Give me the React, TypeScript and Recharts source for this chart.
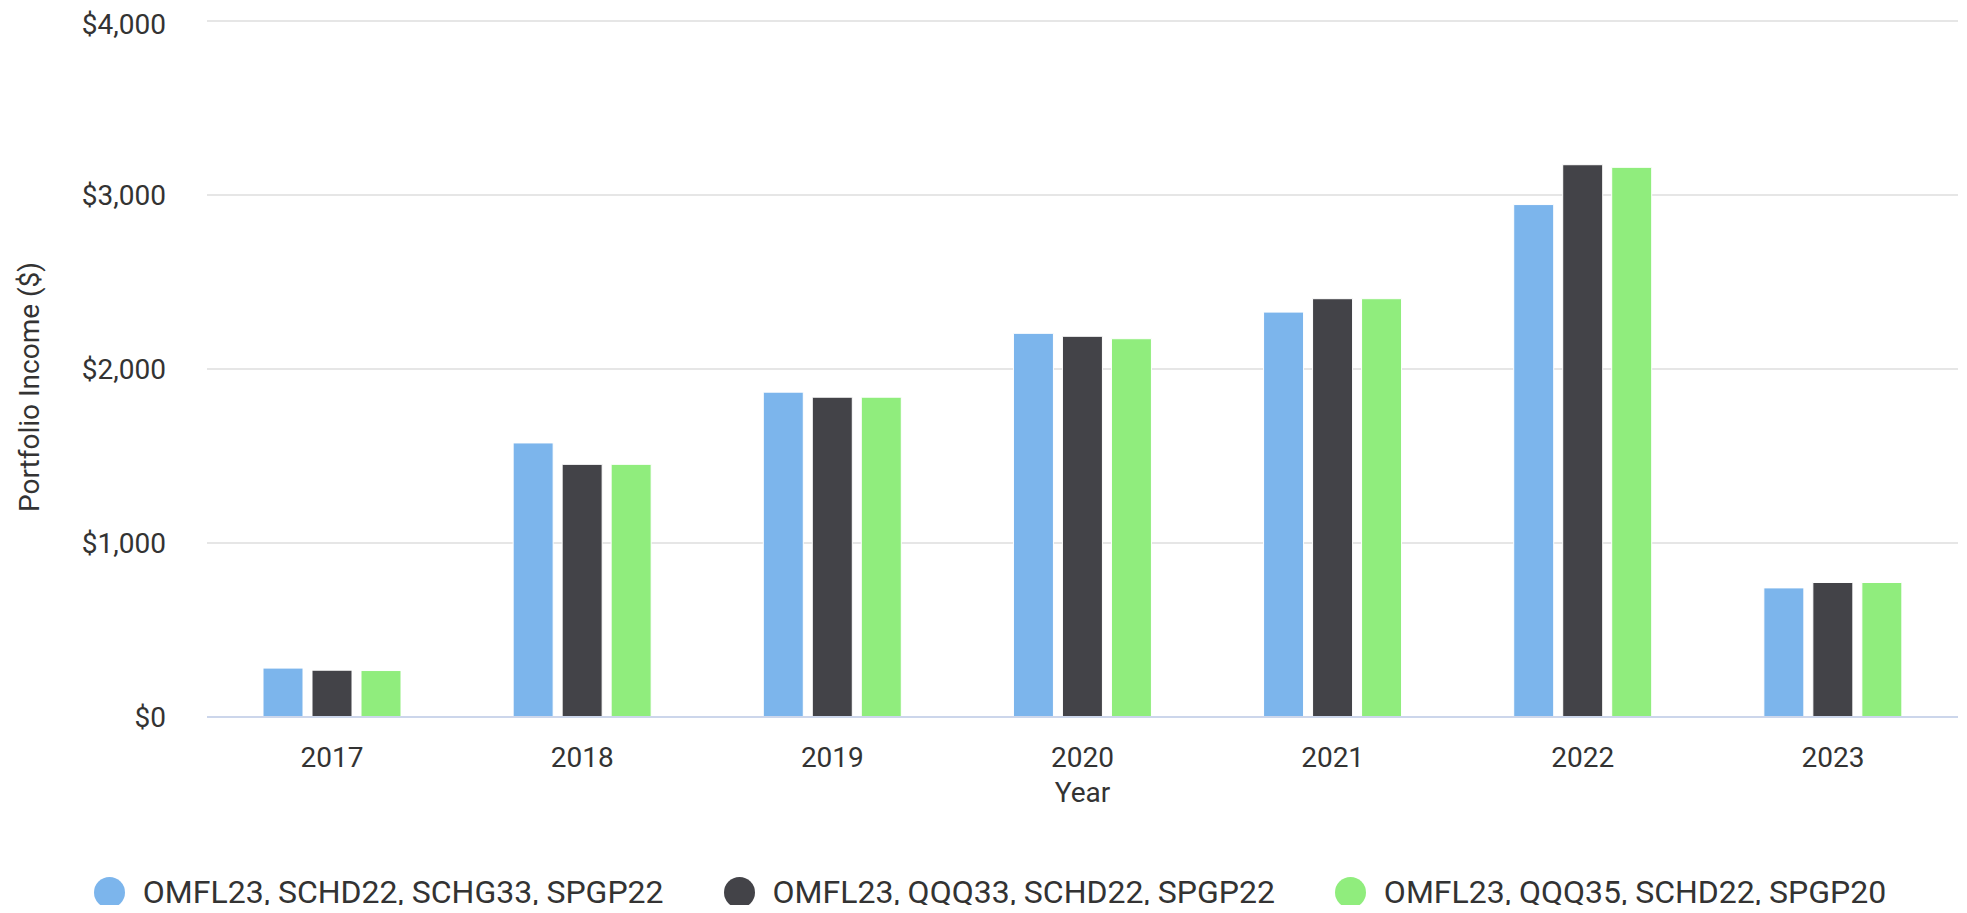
import { BarChart, Bar, XAxis, YAxis, CartesianGrid, Legend, Label } from 'recharts';

const YEARS = ['2017', '2018', '2019', '2020', '2021', '2022', '2023'];

// income per year for each portfolio mix
const MIX_SCHG = [281, 1575, 1867, 2205, 2327, 2945, 742];
const MIX_QQQ33 = [269, 1452, 1838, 2188, 2404, 3174, 773];
const MIX_QQQ35 = [267, 1452, 1838, 2174, 2404, 3159, 773];

const SERIES_NAMES = [
  'OMFL23, SCHD22, SCHG33, SPGP22',
  'OMFL23, QQQ33, SCHD22, SPGP22',
  'OMFL23, QQQ35, SCHD22, SPGP20',
];

const Y_TICKS = [0, 1000, 2000, 3000, 4000];

// highcharts-like default palette
const COLORS = ['#7cb5ec', '#434348', '#90ed7d'];

const FONT = 'Roboto, "Noto Sans", sans-serif';
const TEXT_COLOR = '#333333';

const data = YEARS.map((year, i) => ({
  year,
  schg: MIX_SCHG[i],
  qqq33: MIX_QQQ33[i],
  qqq35: MIX_QQQ35[i],
}));

const formatDollar = (v: number) => `$${v.toLocaleString('en-US')}`;

// keep series order (recharts sorts legend items by name otherwise)
const renderLegend = () => (
  <div
    style={{
      display: 'flex',
      justifyContent: 'center',
      alignItems: 'center',
      height: 24,
      gap: 60,
      paddingLeft: 14,
      fontFamily: FONT,
    }}
  >
    {SERIES_NAMES.map((name, i) => (
      <div key={`legend-${i}`} style={{ display: 'flex', alignItems: 'center', gap: 18 }}>
        <span
          style={{
            display: 'inline-block',
            width: 31,
            height: 31,
            borderRadius: '50%',
            background: COLORS[i % COLORS.length],
            flexShrink: 0,
          }}
        />
        <span style={{ fontSize: 32, color: TEXT_COLOR, lineHeight: '24px', whiteSpace: 'nowrap' }}>
          {name}
        </span>
      </div>
    ))}
  </div>
);

const renderXTitle = (props: any) => {
  const vb = props.viewBox;
  return (
    <text x={vb.x + vb.width / 2} y={vb.y + 85} textAnchor="middle" fontSize={28} fill={TEXT_COLOR} fontFamily={FONT}>
      Year
    </text>
  );
};

const renderYTitle = (props: any) => {
  const vb = props.viewBox;
  const x = vb.x + 31;
  const y = vb.y + vb.height / 2 + 18;
  return (
    <text
      x={x}
      y={y}
      transform={`rotate(-90, ${x}, ${y})`}
      textAnchor="middle"
      fontSize={28}
      fill={TEXT_COLOR}
      fontFamily={FONT}
    >
      Portfolio Income ($)
    </text>
  );
};

export default function App() {
  return (
    <div style={{ width: 1951, height: 897, fontFamily: FONT }}>
      <BarChart
        width={1951}
        height={897}
        data={data}
        margin={{ top: 13, right: 1, left: 0, bottom: 1 }}
        barSize={40}
        barGap={9}
      >
        <CartesianGrid horizontal vertical={false} stroke="#e6e6e6" strokeWidth={2} />
        <XAxis
          dataKey="year"
          interval={0}
          height={163}
          tickLine={false}
          tickSize={0}
          tickMargin={30}
          axisLine={{ stroke: '#ccd6eb', strokeWidth: 2 }}
          tick={{ fontSize: 28, fill: TEXT_COLOR, fontFamily: FONT }}
        >
          <Label content={renderXTitle} />
        </XAxis>
        <YAxis
          domain={[0, 4000]}
          ticks={Y_TICKS}
          width={199}
          axisLine={false}
          tickLine={false}
          tickSize={0}
          tickMargin={41}
          tickFormatter={formatDollar}
          tick={{ fontSize: 28, fill: TEXT_COLOR, fontFamily: FONT }}
        >
          <Label content={renderYTitle} />
        </YAxis>
        <Legend verticalAlign="bottom" content={renderLegend} />
        <Bar dataKey="schg" name={SERIES_NAMES[0]} fill={COLORS[0]} stroke="#ffffff" strokeWidth={1} isAnimationActive={false} />
        <Bar dataKey="qqq33" name={SERIES_NAMES[1]} fill={COLORS[1]} stroke="#ffffff" strokeWidth={1} isAnimationActive={false} />
        <Bar dataKey="qqq35" name={SERIES_NAMES[2]} fill={COLORS[2]} stroke="#ffffff" strokeWidth={1} isAnimationActive={false} />
      </BarChart>
    </div>
  );
}
